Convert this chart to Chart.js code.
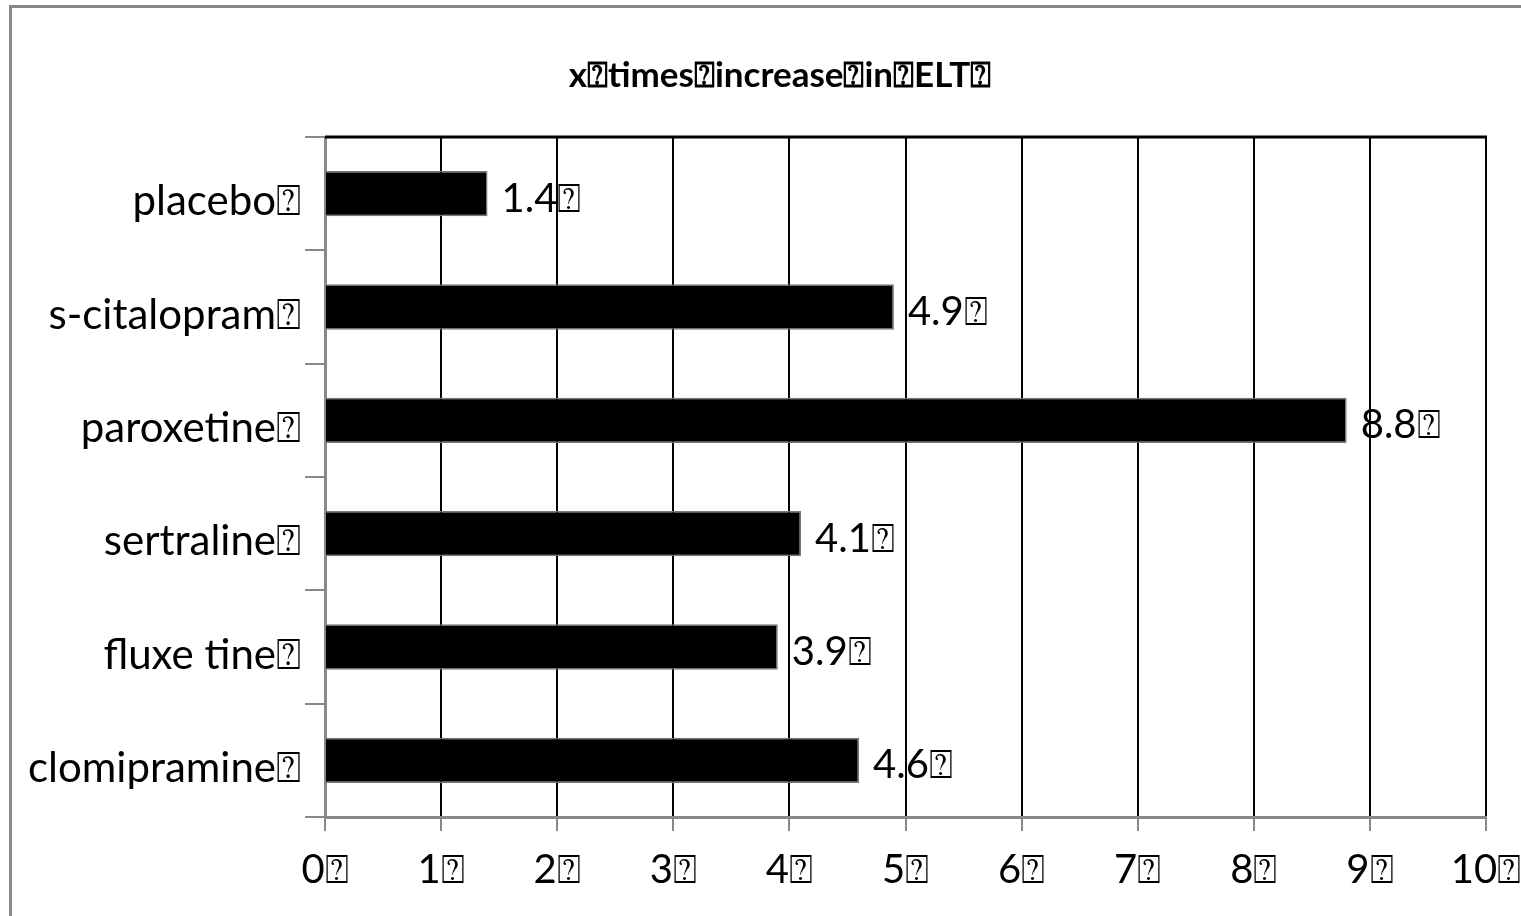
<!DOCTYPE html>
<html>
<head>
<meta charset="utf-8">
<script src="https://cdn.jsdelivr.net/npm/chart.js@4/dist/chart.umd.min.js"></script>
<style>
  html, body { margin: 0; padding: 0; background: #fff; overflow: hidden; }
  #wrap { position: absolute; left: 0; top: 0; width: 1521px; height: 916px; }
  #frame { position: absolute; left: 9px; top: 5px; width: 1700px; height: 1100px;
           border: 3px solid #888; box-sizing: border-box; pointer-events: none; }
</style>
</head>
<body>
<div id="wrap"><canvas id="c" width="1521" height="916"></canvas></div>
<div id="frame"></div>
<script>
const MARK = '\u2370';
const titleText = ['x', 'times', 'increase', 'in', 'ELT'];
const categories = ['placebo', 's-citalopram', 'paroxetine', 'sertraline', 'fluxe tine', 'clomipramine'];
const values = [1.4, 4.9, 8.8, 4.1, 3.9, 4.6];
const xTicks = [0, 1, 2, 3, 4, 5, 6, 7, 8, 9, 10];

const FONT = "Lato, 'Liberation Sans', sans-serif";

const valueLabels = {
  id: 'valueLabels',
  afterDatasetsDraw(chart) {
    const ctx = chart.ctx;
    const meta = chart.getDatasetMeta(0);
    ctx.save();
    ctx.font = '40px ' + FONT;
    ctx.fillStyle = '#000';
    ctx.textAlign = 'left';
    ctx.textBaseline = 'middle';
    meta.data.forEach((bar, i) => {
      ctx.fillText(values[i].toFixed(1) + MARK, bar.x + 14, bar.y + 5);
    });
    ctx.restore();
  }
};

const frameAndTitle = {
  id: 'frameAndTitle',
  afterDraw(chart) {
    const a = chart.chartArea, ctx = chart.ctx;
    ctx.save();
    ctx.strokeStyle = '#000';
    ctx.lineWidth = 3;
    ctx.beginPath();
    ctx.moveTo(a.left, a.top);
    ctx.lineTo(a.right + 1, a.top);
    ctx.stroke();
    ctx.font = 'bold 35px ' + FONT;
    ctx.fillStyle = '#000';
    ctx.textAlign = 'center';
    ctx.textBaseline = 'middle';
    ctx.fillText(titleText.join(MARK) + MARK, 780, 76);
    ctx.restore();
  }
};

new Chart(document.getElementById('c'), {
  type: 'bar',
  data: {
    labels: categories,
    datasets: [{
      data: values,
      backgroundColor: '#000',
      borderColor: '#777',
      borderWidth: 1.5,
      barPercentage: 0.4,
      categoryPercentage: 1.0
    }]
  },
  options: {
    indexAxis: 'y',
    responsive: false,
    animation: false,
    layout: { padding: { left: 0, right: 35, top: 137, bottom: 0 } },
    plugins: {
      legend: { display: false },
      tooltip: { enabled: false },
      title: { display: false }
    },
    scales: {
      x: {
        min: 0, max: 10,
        afterBuildTicks(scale) { scale.ticks = xTicks.map(v => ({ value: v })); },
        afterFit(scale) { scale.height = 99; scale.paddingRight = 0; scale.paddingLeft = 0; },
        ticks: {
          color: '#000',
          font: { family: FONT, size: 40 },
          padding: 15,
          maxRotation: 0,
          callback: (v) => v + MARK
        },
        grid: {
          color: (c) => (c.tick && c.tick.value === 0) ? '#888' : '#000',
          lineWidth: 2,
          tickColor: '#888',
          tickLength: 14
        },
        border: { display: true, color: '#888', width: 3 }
      },
      y: {
        afterFit(scale) { scale.width = 325; scale.paddingTop = 0; scale.paddingBottom = 0; },
        ticks: {
          color: '#000',
          font: { family: FONT, size: 42 },
          padding: 4,
          labelOffset: 8,
          callback: function (v, i) { return categories[i] + MARK; }
        },
        grid: {
          drawOnChartArea: false,
          color: '#888',
          lineWidth: 2,
          tickLength: 20,
          offset: true
        },
        border: { display: true, color: '#888', width: 3 }
      }
    }
  },
  plugins: [valueLabels, frameAndTitle]
});
</script>
</body>
</html>
